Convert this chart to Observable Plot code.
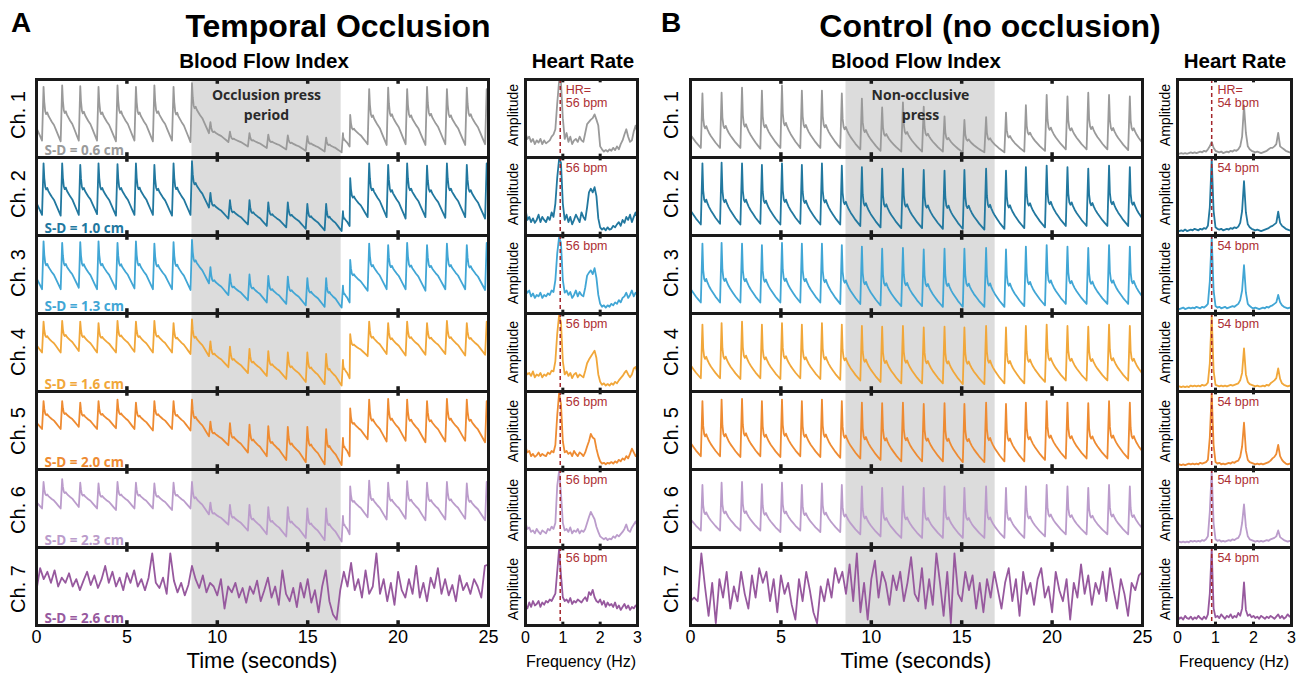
<!DOCTYPE html>
<html><head><meta charset="utf-8">
<script src="https://cdn.jsdelivr.net/npm/d3@7"></script>
<script src="https://cdn.jsdelivr.net/npm/@observablehq/plot@0.6"></script>
<style>
body{margin:0;background:#fff;}
#wrap{position:relative;width:1302px;height:677px;overflow:hidden;font-family:"Liberation Sans",Arial,sans-serif;background:#fff;}
.t{position:absolute;white-space:nowrap;line-height:1;color:#000;}
</style></head><body><div id="wrap"></div>
<script>
// ---------- DATA ----------
const channels = ["Ch. 1","Ch. 2","Ch. 3","Ch. 4","Ch. 5","Ch. 6","Ch. 7"];
const sdLabels = ["S-D = 0.6 cm","S-D = 1.0 cm","S-D = 1.3 cm","S-D = 1.6 cm","S-D = 2.0 cm","S-D = 2.3 cm","S-D = 2.6 cm"];
const colors = ["#9a9a9a","#22789f","#41a6d5","#f1a73a","#ee8b32","#bb9ccb","#97599e"];
const timeTicks = [0,5,10,15,20,25];
const freqTicks = [0,1,2,3];
const pressA = {x1: 8.6, x2: 16.85};
const pressB = {x1: 8.6, x2: 16.85};
const hrA = 0.93, hrB = 0.9;

// beat (peak) times, seconds
const beatTimesA = [-0.65,0.39,1.42,2.42,3.43,4.48,5.5,6.52,7.58,8.6,9.62,10.7,11.78,12.82,13.9,14.98,16.02,16.95,17.35,18.4,19.45,20.5,21.6,22.7,23.8,24.9,25.95];
const beatTimesB = [-0.45,0.66,1.72,2.85,3.95,5.06,6.16,7.27,8.37,9.48,10.6,11.75,12.9,14.05,15.15,16.35,17.45,18.55,19.7,20.85,22.0,23.15,24.3,25.4];

// pulse shape within one beat (phase of beat, relative level)
const beatPhase = [0,0.04,0.09,0.14,0.2,0.26,0.34,0.44,0.56,0.68,0.8,0.92];
const beatShapeA = [1,0.72,0.55,0.5,0.53,0.47,0.42,0.36,0.3,0.2,0.1,0];
const beatShapeB = [1,0.55,0.4,0.36,0.4,0.34,0.28,0.22,0.16,0.1,0.05,0];

// per-beat peak and trough levels (channels 1-6), panel A
const peaksA = [
 [.9,.93,.95,.94,.93,.95,.93,.95,.93,.98,.45,.32,.3,.28,.27,.26,.24,.3,.55,.9,.92,.9,.93,.9,.92,.9,.9],
 [.92,.95,.95,.93,.95,.94,.95,.93,.95,.98,.55,.45,.45,.42,.42,.4,.4,.3,.75,.95,.93,.95,.92,.95,.93,.95,.92],
 [.92,.95,.93,.94,.95,.93,.95,.92,.94,.97,.6,.5,.5,.48,.47,.45,.45,.35,.7,.92,.9,.93,.9,.92,.9,.93,.9],
 [.9,.92,.93,.92,.9,.93,.92,.93,.9,.95,.65,.58,.55,.52,.5,.5,.48,.4,.75,.92,.9,.92,.9,.93,.9,.92,.9],
 [.88,.9,.9,.88,.9,.92,.88,.9,.9,.92,.62,.6,.58,.56,.55,.55,.52,.4,.8,.92,.93,.92,.9,.93,.92,.9,.92],
 [.85,.86,.9,.85,.84,.86,.85,.84,.85,.86,.58,.55,.55,.52,.52,.5,.5,.4,.8,.88,.85,.87,.85,.86,.84,.86,.85]
];
const troughsA = [
 [.2,.19,.2,.2,.19,.2,.19,.2,.18,.3,.18,.12,.1,.08,.06,.05,.04,.12,.15,.14,.15,.14,.15,.14,.15,.14,.15],
 [.25,.24,.25,.26,.24,.25,.25,.24,.25,.35,.2,.12,.1,.08,.06,.04,.03,.1,.22,.22,.2,.22,.21,.22,.2,.22,.2],
 [.3,.3,.32,.3,.3,.31,.3,.3,.29,.38,.22,.15,.12,.1,.08,.06,.05,.12,.28,.3,.3,.28,.3,.3,.29,.3,.3],
 [.5,.5,.52,.5,.5,.51,.5,.5,.48,.45,.3,.22,.18,.14,.1,.07,.05,.15,.45,.48,.46,.47,.48,.46,.47,.46,.47],
 [.52,.52,.55,.52,.53,.52,.5,.52,.5,.42,.3,.2,.15,.1,.07,.04,.03,.15,.38,.35,.36,.34,.35,.36,.34,.35,.35],
 [.5,.5,.52,.5,.48,.5,.5,.48,.5,.42,.28,.2,.15,.12,.1,.07,.05,.15,.38,.35,.36,.34,.35,.36,.34,.35,.35]
];
// panel B
const peaksB = [
 [.85,.84,.85,.92,.88,.95,.88,.88,.84,.77,.65,.72,.66,.53,.48,.52,.58,.68,.82,.8,.85,.82,.8,.85],
 [.92,.95,.96,.95,.93,.95,.93,.95,.92,.9,.88,.88,.86,.85,.86,.88,.85,.9,.92,.9,.88,.92,.9,.9],
 [.9,.92,.93,.92,.9,.93,.92,.92,.9,.88,.85,.86,.84,.85,.85,.86,.84,.88,.9,.88,.86,.9,.88,.88],
 [.9,.88,.9,.92,.88,.9,.88,.9,.88,.86,.85,.86,.84,.85,.84,.86,.84,.86,.88,.86,.85,.88,.86,.86],
 [.92,.9,.92,.93,.9,.92,.9,.92,.9,.88,.87,.88,.86,.87,.86,.88,.86,.88,.9,.88,.87,.9,.88,.88],
 [.85,.82,.85,.86,.83,.85,.82,.84,.82,.8,.78,.8,.78,.8,.78,.8,.78,.8,.82,.8,.78,.82,.8,.8]
];
const troughsB = [
 [.1,.1,.1,.09,.1,.1,.1,.1,.08,.06,.05,.05,.05,.04,.04,.04,.05,.06,.08,.08,.08,.07,.08,.08],
 [.12,.13,.12,.13,.12,.13,.12,.12,.1,.08,.07,.07,.06,.06,.05,.06,.07,.08,.1,.1,.1,.1,.1,.1],
 [.12,.12,.12,.12,.12,.12,.12,.1,.1,.08,.07,.07,.06,.06,.06,.06,.07,.08,.1,.1,.1,.1,.1,.1],
 [.15,.15,.14,.15,.14,.15,.14,.13,.12,.1,.08,.08,.08,.07,.07,.08,.08,.1,.12,.12,.12,.12,.12,.12],
 [.15,.15,.14,.15,.14,.15,.14,.13,.12,.1,.08,.08,.08,.07,.07,.08,.08,.1,.12,.12,.12,.12,.12,.12],
 [.2,.2,.2,.2,.18,.2,.18,.18,.15,.12,.1,.1,.1,.1,.1,.1,.1,.12,.15,.15,.15,.15,.15,.15]
];
// channel 7 (noisy), one value every 0.2 s from 0 to 25 s
const ch7A = [.45,.75,.6,.7,.55, .72,.5,.62,.55,.68, .5,.6,.45,.58,.7, .52,.65,.48,.6,.78, .55,.7,.5,.62,.45,
 .68,.55,.72,.5,.6, .45,.62,.95,.55,.48, .62,.4,.95,.58,.42, .55,.38,.52,.78,.6, .48,.65,.42,.55,.5,
 .38,.6,.2,.5,.42, .55,.35,.48,.28,.5, .4,.58,.3,.45,.62, .35,.5,.25,.72,.4, .3,.48,.22,.55,.35,
 .6,.28,.45,.15,.5, .72,.3,.12,.05,.45, .7,.5,.82,.45,.6, .35,.72,.4,.5,.95, .4,.6,.3,.55,.25,
 .7,.45,.35,.6,.4, .78,.35,.55,.3,.62, .48,.75,.4,.6,.38, .52,.3,.65,.45,.55, .4,.6,.5,.35,.78, .8];
const ch7B = [.3,.35,.3,.95,.5, .1,.55,0,.6,.35, .7,.2,.5,.3,.7, .4,.2,.65,.35,.75, .55,.7,.3,.6,.15,
 .65,.4,.55,.25,.05, .6,.3,.7,.45,.15, 0,.5,.3,.6,.35, .75,.55,.7,.4,.8, .3,.95,.15,.55,.05,
 .6,.85,.35,.7,.55, .25,.65,.45,.7,.3, .55,.9,.4,.3,.75, .2,.6,.25,.95,.55, .1,.7,0,.95,.4,
 .3,.7,.45,.65,.2, .55,.15,.6,.35,.7, .45,.2,.55,.75,.3, .6,.1,.7,.4,.55, .25,.6,.75,.35,.5,
 .15,.7,.45,.3,.6, .05,.55,.35,.8,.4, .65,.25,.55,.4,.7, .3,.75,.45,.2,.6, .4,.1,.55,.45,.65, .7];

// spectra: amplitude every 0.05 Hz from 0 to 3 Hz
const specA = [
 [.30,.22,.25,.18,.22,.15,.20,.17,.22,.15, .20,.16,.18,.20,.25,.28,.35,.70,1.0,.98, .50,.22,.30,.18,.25,.15,.20,.22,.18,.25, .20,.18,.30,.42,.45,.48,.50,.55,.48,.40, .12,.08,.05,.07,.05,.08,.06,.10,.07,.12, .08,.15,.20,.28,.35,.25,.18,.20,.32,.40, .30],
 [.32,.18,.22,.15,.20,.14,.18,.25,.15,.22, .18,.15,.22,.18,.28,.22,.40,.75,1.0,.95, .40,.18,.25,.15,.22,.12,.18,.25,.20,.15, .28,.22,.18,.35,.55,.60,.55,.62,.50,.20, .08,.05,.07,.04,.08,.05,.06,.10,.08,.12, .15,.10,.18,.14,.22,.18,.25,.15,.22,.28, .20],
 [.30,.25,.28,.20,.24,.18,.22,.20,.25,.18, .22,.20,.24,.22,.28,.26,.42,.78,1.0,.92, .42,.25,.28,.22,.26,.18,.22,.28,.20,.26, .22,.20,.32,.48,.52,.55,.50,.58,.45,.22, .10,.06,.08,.05,.08,.06,.10,.08,.12,.10, .15,.12,.18,.20,.25,.18,.22,.28,.20,.25, .22],
 [.25,.20,.22,.18,.24,.16,.20,.18,.22,.16, .20,.18,.22,.20,.25,.24,.38,.75,1.0,.90, .38,.20,.24,.18,.22,.15,.20,.22,.16,.20, .18,.16,.25,.35,.40,.44,.48,.52,.42,.20, .10,.06,.08,.05,.07,.05,.08,.06,.10,.08, .12,.15,.18,.22,.25,.20,.16,.20,.28,.30, .22],
 [.28,.20,.22,.15,.18,.14,.16,.20,.15,.18, .16,.15,.20,.18,.22,.20,.30,.70,1.0,.85, .35,.20,.22,.18,.20,.15,.22,.18,.15,.20, .18,.15,.20,.28,.35,.45,.40,.38,.25,.15, .08,.05,.06,.04,.06,.05,.07,.05,.08,.06, .10,.08,.12,.10,.15,.12,.18,.25,.20,.15, .18],
 [.30,.22,.24,.18,.20,.16,.22,.18,.15,.20, .18,.16,.22,.20,.25,.22,.30,.80,1.0,.70, .30,.20,.22,.18,.24,.16,.20,.18,.22,.16, .20,.18,.22,.30,.38,.45,.40,.35,.25,.18, .12,.10,.08,.10,.07,.09,.08,.12,.10,.14, .12,.15,.18,.22,.28,.20,.18,.24,.28,.32, .25],
 [.25,.20,.28,.22,.30,.24,.26,.30,.22,.28, .25,.30,.28,.32,.30,.35,.40,.70,1.0,.65, .35,.30,.32,.28,.34,.26,.30,.28,.32,.30, .28,.32,.35,.30,.42,.38,.45,.35,.30,.28, .32,.25,.30,.22,.28,.24,.26,.22,.28,.20, .24,.18,.22,.26,.20,.24,.18,.22,.20,.24, .22]
];
const specB = [
 [.03,.02,.03,.02,.03,.02,.03,.04,.03,.04, .03,.04,.05,.04,.06,.05,.08,.12,.18,.10, .06,.05,.04,.05,.03,.04,.05,.04,.06,.05, .07,.06,.08,.12,.25,.67,.30,.12,.08,.06, .05,.04,.05,.04,.03,.04,.05,.06,.08,.10, .10,.12,.15,.30,.12,.10,.08,.06,.05,.04, .04],
 [.04,.03,.04,.03,.05,.03,.04,.05,.04,.06, .05,.04,.06,.05,.07,.06,.10,.35,1.0,.30, .08,.06,.05,.06,.04,.05,.06,.05,.07,.06, .08,.07,.09,.14,.30,.70,.28,.12,.08,.06, .05,.04,.05,.04,.03,.04,.05,.06,.07,.09, .10,.12,.14,.29,.14,.10,.08,.06,.05,.04, .04],
 [.04,.03,.04,.05,.03,.04,.05,.04,.05,.04, .06,.05,.04,.06,.05,.07,.10,.40,1.0,.28, .07,.05,.06,.04,.05,.06,.04,.05,.06,.07, .06,.08,.10,.15,.28,.62,.25,.10,.07,.05, .04,.05,.04,.03,.04,.05,.04,.06,.05,.07, .08,.10,.12,.22,.12,.08,.06,.05,.04,.05, .04],
 [.03,.04,.03,.04,.03,.04,.03,.05,.04,.05, .04,.05,.04,.06,.05,.06,.09,.35,1.0,.25, .06,.05,.04,.05,.04,.05,.04,.05,.06,.05, .06,.07,.08,.12,.22,.55,.20,.10,.07,.06, .05,.04,.05,.04,.04,.05,.04,.06,.05,.08, .10,.12,.15,.28,.14,.08,.06,.05,.04,.05, .04],
 [.03,.04,.03,.04,.03,.04,.05,.04,.05,.04, .05,.04,.06,.05,.06,.07,.10,.40,1.0,.30, .07,.05,.06,.04,.05,.04,.05,.06,.05,.07, .06,.08,.09,.14,.28,.60,.22,.10,.07,.06, .05,.04,.05,.04,.05,.04,.05,.06,.07,.09, .12,.14,.18,.30,.15,.10,.07,.05,.04,.05, .04],
 [.04,.05,.04,.05,.04,.05,.04,.06,.05,.06, .05,.06,.05,.07,.06,.08,.12,.45,1.0,.30, .08,.06,.07,.05,.06,.05,.06,.07,.06,.08, .07,.09,.10,.15,.30,.55,.25,.12,.08,.07, .06,.05,.06,.05,.06,.05,.06,.07,.06,.08, .09,.10,.12,.20,.11,.09,.07,.06,.05,.06, .05],
 [.10,.06,.08,.05,.10,.07,.06,.09,.05,.08, .06,.10,.07,.05,.09,.06,.12,.40,1.0,.20, .08,.10,.07,.12,.09,.06,.10,.08,.12,.07, .10,.08,.14,.10,.20,.55,.18,.10,.12,.08, .10,.07,.09,.06,.10,.08,.06,.09,.07,.10, .08,.06,.09,.12,.07,.10,.06,.08,.12,.09, .10]
];

// ---------- BUILD TABLES ----------
function beatRows(ch, tb, pk, tr, shape) {
  const out = [];
  for (let i = 0; i < tb.length - 1; i++) {
    const T = tb[i+1] - tb[i];
    for (let k = 0; k < beatPhase.length; k++)
      out.push({ch, t: tb[i] + beatPhase[k]*T, v: tr[i] + (pk[i]-tr[i])*shape[k]});
  }
  out.push({ch, t: tb[tb.length-1], v: pk[pk.length-1]});
  return out;
}
function bfiTable(tb, peaks, troughs, shape, ch7) {
  let rows = [];
  for (let c = 0; c < 6; c++) rows = rows.concat(beatRows(channels[c], tb, peaks[c], troughs[c], shape));
  ch7.forEach((v, i) => rows.push({ch: channels[6], t: i*0.2, v}));
  return rows;
}
function specTable(spec) {
  const rows = [];
  spec.forEach((arr, c) => arr.forEach((a, i) => rows.push({ch: channels[c], f: i*0.05, a})));
  return rows;
}
const bfiA = bfiTable(beatTimesA, peaksA, troughsA, beatShapeA, ch7A);
const bfiB = bfiTable(beatTimesB, peaksB, troughsB, beatShapeB, ch7B);
const hrTableA = specTable(specA);
const hrTableB = specTable(specB);

// ---------- PLOTS ----------
const FONT = "'Liberation Sans', Arial, sans-serif";
const YD = [-0.03, 1.03];
const PH = 600, MT = 6, MB = 42, TOP = 70;
function bfiPlot(rows, press, pressText, withSD, ml, mr, width) {
  const marks = [
    Plot.rect([press], {x1: "x1", x2: "x2", y1: YD[0], y2: YD[1], fill: "#dcdcdc"}),
    Plot.line(rows, {x: "t", y: "v", fy: "ch", stroke: "ch", strokeWidth: 1.8, clip: true}),
    Plot.ruleX([5,10,15,20], {x: d => d, y1: YD[1], y2: 0.965, stroke: "#1a1a1a", strokeWidth: 3.5}),
    Plot.ruleX([5,10,15,20], {x: d => d, y1: YD[0], y2: 0.035, stroke: "#1a1a1a", strokeWidth: 3.5}),
    Plot.frame({stroke: "#1a1a1a", strokeWidth: 3}),
    Plot.text([{ch: "Ch. 1", x: 12.72, y: 0.70, s: pressText}], {fy: "ch", x: "x", y: "y", text: "s", fontWeight: "bold", fontSize: 14, fontFamily: "'Open Sans', sans-serif", fill: "#2a2a2a", lineHeight: 1.38})
  ];
  if (withSD) marks.push(Plot.text(channels.map((c, i) => ({ch: c, s: sdLabels[i]})), {fy: "ch", text: "s", fill: "ch", frameAnchor: "bottom-left", dx: 8, dy: -3, fontWeight: "bold", fontSize: 13.5, fontFamily: "'Open Sans', sans-serif"}));
  return Plot.plot({
    width, height: PH, marginLeft: ml, marginRight: mr, marginTop: MT, marginBottom: MB,
    style: {fontFamily: FONT, fontSize: "18px", color: "#000", background: "transparent", overflow: "visible"},
    x: {domain: [0, 25], ticks: timeTicks, tickFormat: d => String(d), tickSize: 0, tickPadding: 5, label: null},
    y: {domain: YD, axis: null},
    fy: {domain: channels, padding: 0, axis: null},
    color: {domain: channels, range: colors},
    marks
  });
}
function hrPlot(rows, hr, bpm, ml, mr, width) {
  const labs = channels.map((c, i) => ({ch: c, s: i === 0 ? "HR=\n" + bpm + " bpm" : bpm + " bpm"}));
  return Plot.plot({
    width, height: PH, marginLeft: ml, marginRight: mr, marginTop: MT, marginBottom: MB,
    style: {fontFamily: FONT, fontSize: "16px", color: "#000", background: "transparent", overflow: "visible"},
    x: {domain: [0, 3], ticks: freqTicks, tickFormat: d => String(d), tickSize: 0, tickPadding: 6, label: null},
    y: {domain: [-0.03, 1.02], axis: null},
    fy: {domain: channels, padding: 0, axis: null},
    color: {domain: channels, range: colors},
    marks: [
      Plot.line(rows, {x: "f", y: "a", fy: "ch", stroke: "ch", strokeWidth: 1.8, clip: true}),
      Plot.ruleX([hr], {x: d => d, stroke: "#a3262c", strokeWidth: 1.5, strokeDasharray: "4,3"}),
      Plot.ruleX([1, 2], {x: d => d, y1: 1.02, y2: 0.975, stroke: "#1a1a1a", strokeWidth: 3}),
      Plot.ruleX([1, 2], {x: d => d, y1: -0.03, y2: 0.015, stroke: "#1a1a1a", strokeWidth: 3}),
      Plot.frame({stroke: "#1a1a1a", strokeWidth: 3}),
      Plot.text(labs, {fy: "ch", text: "s", x: hr + 0.15, frameAnchor: "top", dy: 6, textAnchor: "start", lineAnchor: "top", fontSize: 12.5, fill: "#ad2f33", lineHeight: 1.0})
    ]
  });
}

const W = document.getElementById("wrap");
function put(el, left, top) { el.style.position = "absolute"; el.style.left = left + "px"; el.style.top = top + "px"; W.appendChild(el); }
function label(txt, x, base, size, bold, center = true) {
  const d = document.createElement("div");
  d.className = "t"; d.textContent = txt;
  d.style.fontSize = size + "px"; d.style.fontWeight = bold ? "bold" : "normal";
  d.style.left = x + "px"; d.style.top = (base - 0.8465*size) + "px";
  if (center) d.style.transform = "translateX(-50%)";
  W.appendChild(d);
}
function vlabel(txt, cx, cy, size) {
  const d = document.createElement("div");
  d.className = "t"; d.textContent = txt;
  d.style.fontSize = size + "px";
  d.style.left = cx + "px"; d.style.top = cy + "px";
  d.style.transform = "translate(-50%,-50%) rotate(-90deg)";
  W.appendChild(d);
}

put(bfiPlot(bfiA, pressA, "Occlusion press\nperiod", true, 36, 12, 500), 0, TOP);
put(hrPlot(hrTableA, hrA, 56, 35, 8, 155), 490, TOP);
put(bfiPlot(bfiB, pressB, "Non-occlusive\npress", false, 38, 10, 500), 652, TOP);
put(hrPlot(hrTableB, hrB, 54, 35, 9, 158), 1142, TOP);

// row labels
const rowH = (PH - MT - MB) / channels.length;
channels.forEach((c, i) => {
  const cy = TOP + MT + rowH * (i + 0.5);
  vlabel(c, 18, cy, 20);
  vlabel("Amplitude", 513, cy, 14);
  vlabel(c, 671, cy, 20);
  vlabel("Amplitude", 1165, cy, 14);
});

label("A", 11, 33, 28, true, false);
label("Temporal Occlusion", 338, 37, 32, true);
label("Blood Flow Index", 264, 68, 20.5, true);
label("Heart Rate", 583, 68, 20.5, true);
label("B", 661, 33, 28, true, false);
label("Control (no occlusion)", 990, 37, 32, true);
label("Blood Flow Index", 916, 68, 20.5, true);
label("Heart Rate", 1235, 68, 20.5, true);
label("Time (seconds)", 262, 669, 22, false);
label("Frequency (Hz)", 581, 668, 16, false);
label("Time (seconds)", 916, 669, 22, false);
label("Frequency (Hz)", 1234, 668, 16, false);
</script></body></html>
